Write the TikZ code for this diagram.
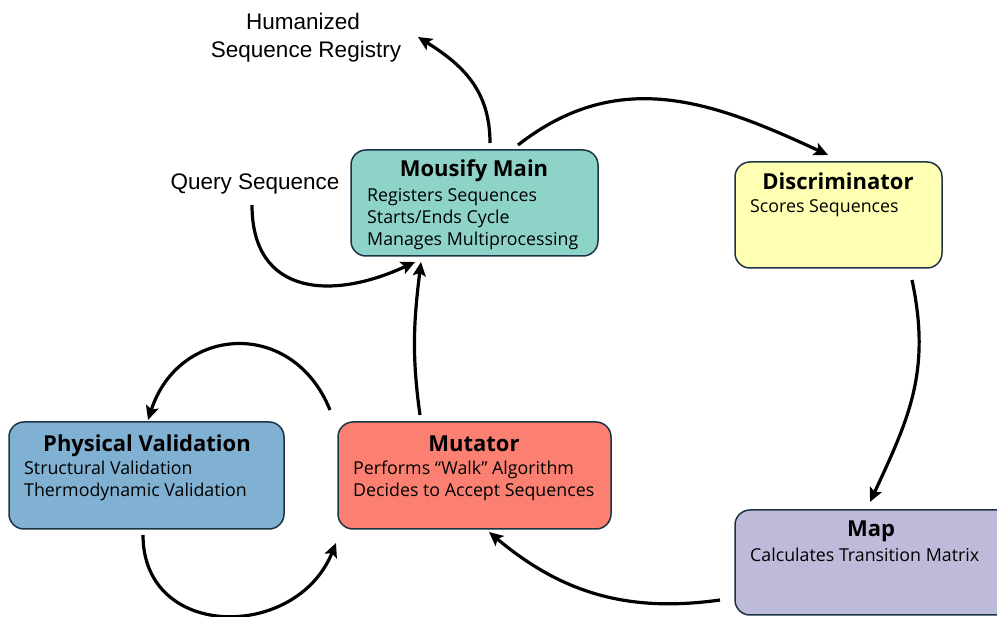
\documentclass[tikz,border=0pt]{standalone}
\usepackage{fontspec}
\setmainfont{Open Sans}
\newfontfamily\arialf{Liberation Sans}
\usetikzlibrary{arrows.meta}
\definecolor{cMain}{HTML}{8DD3C7}
\definecolor{cDisc}{HTML}{FFFFB3}
\definecolor{cPhys}{HTML}{80B1D3}
\definecolor{cMut}{HTML}{FB8072}
\definecolor{cMap}{HTML}{BEBADA}
\definecolor{cEdge}{HTML}{1B3445}
\tikzset{
  box/.style={draw=cEdge, line width=1.5pt, rounded corners=15pt, inner sep=0pt},
  ttl/.style={anchor=base, inner sep=0pt, font=\fontsize{22}{24}\selectfont\bfseries},
  bdy/.style={anchor=base west, inner sep=0pt, font=\fontsize{17.8}{22}\selectfont},
  lbl/.style={anchor=base, inner sep=0pt, font=\arialf\fontsize{22.5}{28}\selectfont},
  flow/.style={line width=3.2pt, -{Stealth[length=14pt,width=13pt,inset=3pt]}}
}
\begin{document}
\begin{tikzpicture}[x=1pt,y=-1pt]
\useasboundingbox (0,0) rectangle (997,617);
\begin{scope}
\clip (0,0) rectangle (997,617);
% boxes
\node[box, fill=cMain, minimum width=247pt, minimum height=106pt] (main) at (474.5,203) {};
\node[box, fill=cDisc, minimum width=207pt, minimum height=106pt] (disc) at (838.5,215) {};
\node[box, fill=cPhys, minimum width=275pt, minimum height=107pt] (phys) at (146.5,475.5) {};
\node[box, fill=cMut, minimum width=273pt, minimum height=107pt] (mut) at (474.5,475.5) {};
\node[box, fill=cMap, minimum width=280pt, minimum height=105pt] (map) at (875,562.5) {};
\end{scope}
% texts
\node[ttl] (mainT) at (474,177) {Mousify Main};
\node[bdy] (mainB1) at (367,202) {Registers Sequences};
\node[bdy] (mainB2) at (367,224) {Starts/Ends Cycle};
\node[bdy] (mainB3) at (367,246) {Manages Multiprocessing};
\node[ttl] (discT) at (838,190) {Discriminator};
\node[bdy] (discB1) at (750,213) {Scores Sequences};
\node[ttl] (physT) at (147,452) {Physical Validation};
\node[bdy] (physB1) at (24,475) {Structural Validation};
\node[bdy] (physB2) at (24,497) {Thermodynamic Validation};
\node[ttl] (mutT) at (474,452) {Mutator};
\node[bdy] (mutB1) at (353,475) {Performs “Walk” Algorithm};
\node[bdy] (mutB2) at (353,497) {Decides to Accept Sequences};
\node[ttl] (mapT) at (871,537) {Map};
\node[bdy] (mapB1) at (750,562) {Calculates Transition Matrix};
% labels
\node[lbl] (hum1) at (303,30) {Humanized};
\node[lbl] (hum2) at (306,58) {Sequence Registry};
\node[lbl] (query) at (255,190) {Query Sequence};
% arrow ends
\coordinate (a1s) at (490,143);
\coordinate (a1e) at (418,37);
\coordinate (a2s) at (518,145);
\coordinate (a2e) at (828,155);
\coordinate (a3s) at (912,280);
\coordinate (a3e) at (870,502);
\coordinate (a4s) at (720,600);
\coordinate (a4e) at (489,532);
\coordinate (a5s) at (420,415);
\coordinate (a5e) at (421,262);
\coordinate (a6s) at (252,205);
\coordinate (a6e) at (415,262);
\coordinate (a7s) at (330,410);
\coordinate (a7e) at (148,420);
\coordinate (a8s) at (143,535);
\coordinate (a8e) at (336,543);
% arrows
\draw[flow] (a1s) to[out=90,in=-32,looseness=1.05] (a1e);
\draw[flow] (a2s) to[out=38,in=155,looseness=1.05] (a2e);
\draw[flow] (a3s) to[out=-78,in=65,looseness=1.05] (a3e);
\draw[flow] (a4s) to[out=188,in=-40] (a4e);
\draw[flow] (a5s) to[out=98,in=-97] (a5e);
\draw[flow] (a6s) to[out=-90,in=205,looseness=1.35] (a6e);
\draw[flow] (a7s) to[out=112,in=72,looseness=1.4] (a7e);
\draw[flow] (a8s) to[out=-90,in=-112,looseness=1.4] (a8e);
\end{tikzpicture}
\end{document}
